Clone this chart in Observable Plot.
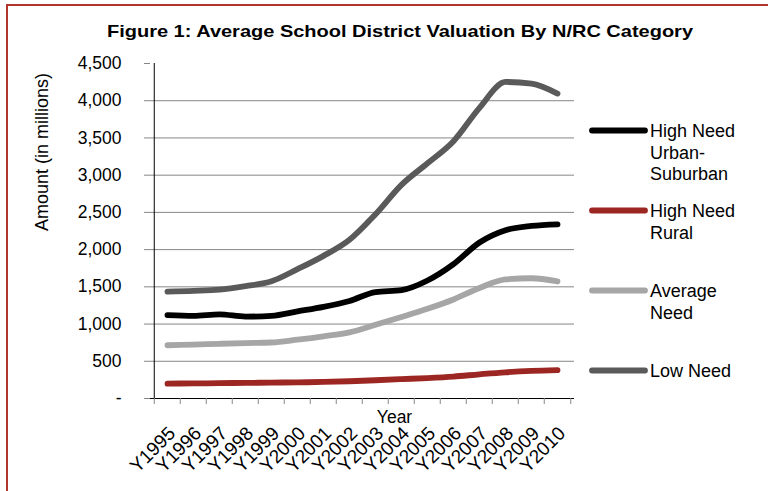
<!DOCTYPE html>
<html>
<head>
<meta charset="utf-8">
<script src="https://cdn.jsdelivr.net/npm/d3@7"></script>
<script src="https://cdn.jsdelivr.net/npm/@observablehq/plot@0.6"></script>
<style>
  html, body { margin: 0; padding: 0; background: #fff; }
  #chart { position: relative; width: 768px; height: 491px; overflow: hidden; background: #fff; }
  #chart svg { display: block; position: absolute; left: 0; top: 0; }
  #border { position: absolute; left: 6px; top: 3.5px; width: 900px; height: 600px;
            border-top: 2px solid #b3342b; border-left: 2px solid #b3342b; pointer-events: none; }
</style>
</head>
<body>
<div id="chart"><div id="border"></div></div>
<script>
// Categories (school years) and series
const years = ["Y1995","Y1996","Y1997","Y1998","Y1999","Y2000","Y2001","Y2002",
               "Y2003","Y2004","Y2005","Y2006","Y2007","Y2008","Y2009","Y2010"];
const seriesNames = ["High Need Urban-Suburban", "High Need Rural", "Average Need", "Low Need"];
const legendLines = [["High Need", "Urban-", "Suburban"], ["High Need", "Rural"], ["Average", "Need"], ["Low Need"]];
const seriesColors = ["#000000", "#9c2622", "#a6a6a6", "#5a5a5a"];

// Average valuation, in millions
const highNeedUrbanSuburban = [1120,1110,1130,1100,1110,1170,1230,1310,1430,1455,1585,1805,2095,2260,2318,2340];
const highNeedRural         = [200,203,206,210,213,217,222,232,245,260,275,295,325,352,370,380];
const averageNeed           = [715,725,735,745,752,790,835,889,990,1095,1205,1330,1485,1600,1615,1572];
const lowNeed               = [1435,1445,1462,1510,1575,1738,1916,2132,2475,2870,3160,3457,3905,4252,4230,4096];
const seriesValues = [highNeedUrbanSuburban, highNeedRural, averageNeed, lowNeed];

const yTicks = [0,500,1000,1500,2000,2500,3000,3500,4000,4500];
const titleText = "Figure 1: Average School District Valuation By N/RC Category";
const yLabel = "Amount (in millions)";
const xLabel = "Year";

const rows = seriesNames.flatMap((name, k) =>
  years.map((year, i) => ({series: name, year, value: seriesValues[k][i]})));

const font = "'Liberation Sans', Arial, Helvetica, sans-serif";
const W = 768, H = 491;
const mL = 150, mR = 194, mT = 63, mB = 93;
const frameW = W - mL - mR;
const bw = frameW / years.length;
const fmt = d3.format(",");

const svg = Plot.plot({
  width: W, height: H,
  marginLeft: mL, marginRight: mR, marginTop: mT, marginBottom: mB,
  style: {fontFamily: font, fontSize: "17px", color: "#000", background: "transparent"},
  x: {type: "band", domain: years, padding: 0, axis: null},
  y: {domain: [0, 4500], axis: null},
  color: {domain: seriesNames, range: seriesColors},
  marks: [
    // horizontal gridlines
    Plot.ruleY(yTicks.filter(v => v > 0 && v < 4500), {stroke: "#868686", strokeWidth: 1}),
    // y tick marks and labels
    Plot.ruleY(yTicks, {stroke: "#868686", insetLeft: -6, insetRight: frameW}),
    Plot.text(yTicks, {y: d => d, frameAnchor: "left", dx: -29, text: d => d === 0 ? "-" : fmt(d),
      textAnchor: "end", fontSize: 17.5, fill: "#000"}),
    // axis lines
    Plot.ruleY(yTicks.slice(0, 1), {stroke: "#000"}),
    Plot.ruleX([years[0]], {y1: 0, y2: 4500, dx: -bw / 2, stroke: "#000"}),
    // x tick marks on category edges
    Plot.ruleX(years, {y1: 0, y2: 0, insetBottom: -6, dx: -bw / 2, stroke: "#868686"}),
    Plot.ruleX([years[years.length - 1]], {y1: 0, y2: 0, insetBottom: -6, dx: bw / 2, stroke: "#868686"}),
    // rotated category labels
    Plot.text(years, {x: d => d, y: 0, text: d => d, rotate: -45, textAnchor: "end",
      lineAnchor: "top", dy: 26.5, dx: -0.5, fontSize: 19, fill: "#000"}),
    // axis titles
    Plot.text([xLabel], {frameAnchor: "bottom", dx: 32, dy: 24, lineAnchor: "bottom", fontSize: 17.5, fill: "#000"}),
    Plot.text([yLabel], {frameAnchor: "left", rotate: -90, dx: -108, fontSize: 18, fill: "#000"}),
    // series lines
    Plot.line(rows, {x: "year", y: "value", z: "series", stroke: "series", strokeWidth: 5.8,
      curve: "monotone-x", strokeLinecap: "round", strokeLinejoin: "round"})
  ]
});

const root = d3.select(svg);

// title
root.append("text")
  .attr("x", 107).attr("y", 36.5)
  .attr("text-anchor", "start")
  .attr("font-family", font).attr("font-size", 17).attr("font-weight", "bold")
  .attr("textLength", 586).attr("lengthAdjust", "spacingAndGlyphs")
  .attr("fill", "#000")
  .text(titleText);

// legend on the right
const color = svg.scale("color");
const lg = root.append("g").attr("font-family", font).attr("font-size", 18).attr("text-anchor", "start");
const legendY = [130.5, 210.5, 290.5, 370.5];
seriesNames.forEach((name, k) => {
  const g = lg.append("g").attr("transform", `translate(0,${legendY[k]})`);
  g.append("line").attr("x1", 592).attr("x2", 645).attr("y1", 0).attr("y2", 0)
    .attr("stroke", color.apply(name)).attr("stroke-width", 5.8).attr("stroke-linecap", "round");
  const t = g.append("text").attr("x", 650).attr("y", 6.5).attr("fill", "#000");
  legendLines[k].forEach((line, j) => {
    t.append("tspan").attr("x", 650).attr("dy", j === 0 ? 0 : 21.5).text(line);
  });
});

document.getElementById("chart").appendChild(svg);
</script>
</body>
</html>
